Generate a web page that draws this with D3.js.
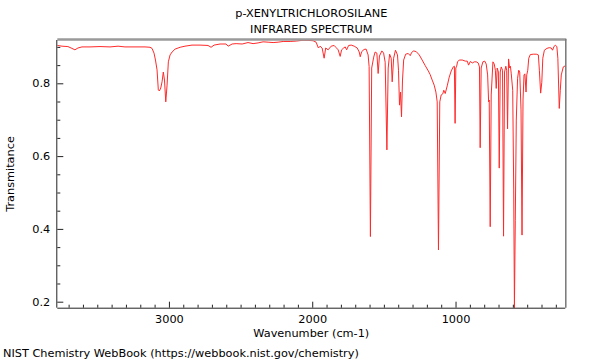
<!DOCTYPE html>
<html><head><meta charset="utf-8">
<script src="https://cdn.jsdelivr.net/npm/d3@7"></script>
<style>body{margin:0;background:#fff}svg{display:block}text{font-family:"DejaVu Sans",sans-serif;font-size:11.3px;fill:#000}</style>
</head><body><svg id="c" width="600" height="360"></svg>
<script>
const titleLines = ["p-XENYLTRICHLOROSILANE", "INFRARED SPECTRUM"];
const xLabel = "Wavenumber (cm-1)";
const yLabel = "Transmitance";
const footer = "NIST Chemistry WebBook (https://webbook.nist.gov/chemistry)";
const xMajorTicks = [3000, 2000, 1000];
const yMajorTicks = [0.2, 0.4, 0.6, 0.8];
const xDomain = [3779, 234];
const yDomain = [0.1835, 0.919];

const wavenumber = [3779,3746,3705,3677,3656,3635,3607,3551,3481,3411,3355,3307,3237,3167,3132,3118,3104,3094,3083,3074,3067,3057,3048,3039,3031,3022,3013,3004,2992,2978,2957,2922,2888,2839,2783,2727,2706,2685,2643,2601,2587,2559,2531,2489,2448,2413,2378,2343,2308,2273,2238,2203,2154,2112,2071,2029,1994,1973,1957,1945,1931,1917,1906,1889,1868,1847,1833,1819,1805,1795,1781,1770,1760,1746,1728,1707,1686,1672,1665,1655,1638,1624,1610,1603,1594,1585,1571,1561,1549,1540,1531,1514,1502,1491,1479,1470,1460,1449,1442,1432,1419,1405,1398,1391,1384,1377,1370,1362,1348,1330,1316,1306,1292,1274,1253,1233,1212,1190,1177,1163,1149,1137,1128,1119,1110,1100,1089,1082,1072,1058,1044,1030,1016,1008,1003,998,992,986,974,953,932,918,909,897,883,869,855,842,833,828,821,809,796,786,776,769,765,758,751,739,730,722,716,709,701,695,688,681,672,665,658,649,643,637,630,623,617,611,601,594,589,583,576,567,559,552,543,536,529,522,516,508,503,496,489,478,457,436,422,415,406,398,391,380,362,346,332,323,314,304,293,286,276,269,262,248,234];
const transmittance = [0.904,0.902,0.901,0.896,0.892,0.897,0.900,0.900,0.901,0.900,0.902,0.900,0.900,0.900,0.899,0.896,0.883,0.864,0.837,0.782,0.779,0.787,0.804,0.831,0.809,0.749,0.795,0.859,0.878,0.886,0.894,0.899,0.902,0.905,0.905,0.904,0.899,0.905,0.908,0.908,0.902,0.908,0.909,0.908,0.912,0.909,0.911,0.914,0.913,0.912,0.913,0.915,0.915,0.916,0.918,0.918,0.917,0.913,0.897,0.902,0.897,0.869,0.897,0.892,0.902,0.904,0.898,0.892,0.874,0.892,0.897,0.900,0.892,0.904,0.905,0.902,0.897,0.886,0.873,0.887,0.893,0.894,0.878,0.846,0.379,0.842,0.872,0.886,0.883,0.827,0.875,0.889,0.883,0.858,0.617,0.842,0.880,0.869,0.804,0.869,0.891,0.878,0.836,0.740,0.776,0.708,0.809,0.864,0.880,0.882,0.876,0.885,0.889,0.887,0.878,0.864,0.849,0.834,0.824,0.809,0.795,0.776,0.749,0.342,0.749,0.768,0.771,0.781,0.772,0.793,0.817,0.834,0.845,0.847,0.690,0.842,0.847,0.859,0.864,0.864,0.861,0.861,0.850,0.860,0.856,0.859,0.859,0.856,0.845,0.623,0.842,0.859,0.861,0.853,0.823,0.749,0.754,0.406,0.768,0.859,0.853,0.836,0.786,0.842,0.831,0.567,0.831,0.845,0.836,0.380,0.831,0.847,0.836,0.675,0.867,0.842,0.847,0.826,0.781,0.507,0.183,0.424,0.699,0.814,0.836,0.831,0.727,0.383,0.754,0.823,0.826,0.776,0.823,0.836,0.869,0.879,0.880,0.880,0.878,0.836,0.773,0.803,0.869,0.891,0.896,0.898,0.897,0.891,0.900,0.905,0.901,0.869,0.731,0.781,0.823,0.845,0.848];

const L = 57.3, R = 565.3, T = 40, B = 307.7;
const svg = d3.select("#c");
const x = d3.scaleLinear().domain(xDomain).range([L, R]);
const y = d3.scaleLinear().domain(yDomain).range([B, T]);

const data = wavenumber.map((w, i) => [w, transmittance[i]]);

svg.append("clipPath").attr("id", "clip").append("rect")
  .attr("x", L).attr("y", T).attr("width", R - L).attr("height", B - T);

svg.append("path").datum(data)
  .attr("clip-path", "url(#clip)")
  .attr("fill", "none").attr("stroke", "#ff2a2a").attr("stroke-width", 1)
  .attr("d", d3.line().x(d => x(d[0])).y(d => y(d[1])));

// frame: gray top/right, dark left/bottom
svg.append("line").attr("x1", L).attr("x2", R + 1).attr("y1", T - 0.5).attr("y2", T - 0.5)
  .attr("stroke", "#9a9a9a").attr("stroke-width", 2.5);
svg.append("line").attr("x1", R + 0.5).attr("x2", R + 0.5).attr("y1", T - 1).attr("y2", B)
  .attr("stroke", "#777").attr("stroke-width", 1.5);

// x axis
const xMinor = d3.range(300, 3800, 100).filter(v => !xMajorTicks.includes(v));
const gx = svg.append("g").attr("transform", `translate(0,${B})`)
  .call(d3.axisBottom(x).tickValues(xMajorTicks).tickSize(-6).tickPadding(7).tickFormat(d3.format("d")));
gx.select(".domain").attr("d", `M${L},0.5H${R}`).attr("stroke", "#222");
gx.selectAll("text").attr("font-size", 11).attr("font-family", "DejaVu Sans").attr("fill", "#000");
const gxm = svg.append("g").attr("transform", `translate(0,${B})`)
  .call(d3.axisBottom(x).tickValues(xMinor).tickSize(-3).tickFormat(""));
gxm.select(".domain").remove();

// y axis
const yMinor = d3.range(0.25, 0.92, 0.05).map(v => +v.toFixed(2)).filter(v => !yMajorTicks.includes(v));
const gy = svg.append("g").attr("transform", `translate(${L},0)`)
  .call(d3.axisLeft(y).tickValues(yMajorTicks).tickSize(-6).tickPadding(7).tickFormat(d3.format(".1f")));
gy.select(".domain").attr("d", `M-0.5,${T}V${B}`).attr("stroke", "#222");
gy.selectAll("text").attr("font-size", 11).attr("font-family", "DejaVu Sans").attr("fill", "#000");
const gym = svg.append("g").attr("transform", `translate(${L},0)`)
  .call(d3.axisLeft(y).tickValues(yMinor).tickSize(-3).tickFormat(""));
gym.select(".domain").remove();
svg.selectAll(".tick line").attr("stroke", "#222");

// texts
const cx = (L + R) / 2;
svg.append("text").attr("x", cx).attr("y", 17).attr("text-anchor", "middle").text(titleLines[0]);
svg.append("text").attr("x", cx).attr("y", 33).attr("text-anchor", "middle").text(titleLines[1]);
svg.append("text").attr("x", cx).attr("y", 336.5).attr("text-anchor", "middle").text(xLabel);
svg.append("text").attr("transform", `translate(14,174) rotate(-90)`).attr("text-anchor", "middle").text(yLabel);
svg.append("text").attr("x", 3).attr("y", 356.5).text(footer);
</script></body></html>
